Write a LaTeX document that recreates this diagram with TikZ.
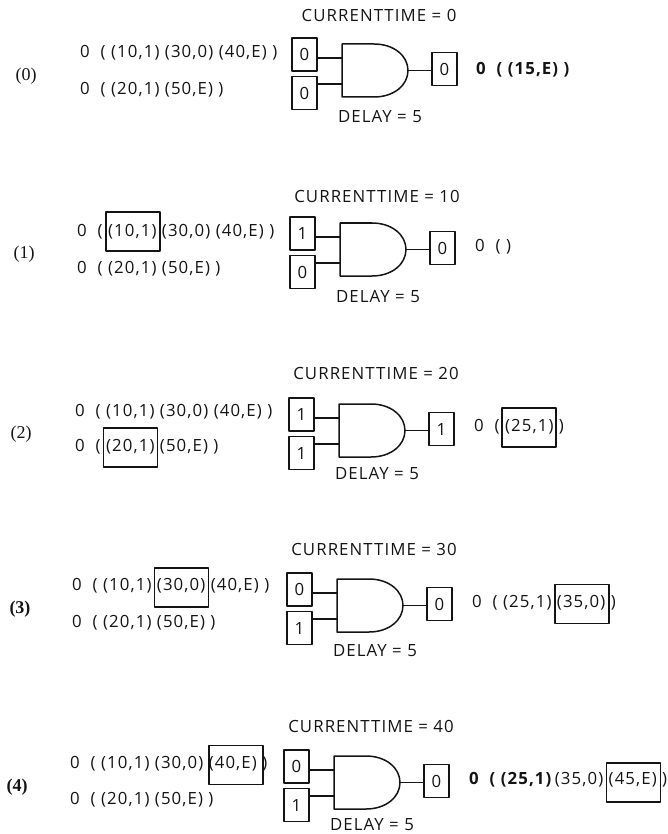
\documentclass[tikz,border=0pt]{standalone}
\usepackage{fontspec}
\usepackage{xcolor}
\usepackage{tikz}
\setmainfont[LetterSpace=6.5]{Open Sans}
\newfontfamily\stagefont{Liberation Serif}
\definecolor{ink}{HTML}{141414}
\tikzset{
  textlabel/.style={inner sep=0pt,text=ink,font=\fontsize{16.8}{18}\selectfont},
  listlabel/.style={textlabel,anchor=west},
  stagelabel/.style={inner sep=0pt,text=ink,font=\stagefont\fontsize{18}{20}\selectfont},
  sigbox/.style={draw=ink,line width=1.6pt,inner sep=0pt,minimum width=25pt,minimum height=33pt,textlabel},
  hibox/.style={draw=ink,line width=1.5pt,inner sep=0pt,minimum width=54pt,minimum height=39pt},
  wire/.style={draw=ink,line width=1.5pt}
}

\begin{document}
\begin{tikzpicture}[x=1pt,y=-1pt,line cap=round,line join=round]
  \useasboundingbox (0,0) rectangle (668,834);
  \foreach \row/\gx/\gy/\ina/\inb/\outv/\now/\nowy/\dly in {0/342/44/0/0/0/0/-29/73,1/340/223/1/0/0/10/-27/74,2/339/404/1/1/1/20/-31/70,3/337/579/0/1/0/30/-30/72,4/334/756/0/1/0/40/-30/69}{
    \begin{scope}[shift={(\gx,\gy)}]
      \draw[wire] (0,0) -- (32,0) .. controls (52,0) and (66,12) .. (66,26.5) .. controls (66,41) and (52,53) .. (32,53) -- (0,53) -- cycle;
      \coordinate (pina\row) at (0,14);
      \coordinate (pinb\row) at (0,40);
      \coordinate (pinout\row) at (66,26.5);
      \node[sigbox] (ina\row) at (-37.5,10.5) {\ina};
      \node[sigbox] (inb\row) at (-37.5,49) {\inb};
      \node[sigbox] (outv\row) at (102.5,25) {\outv};
      \node[textlabel] (now\row) at (37,\nowy) {CURRENTTIME = \now};
      \node[textlabel] (delay\row) at (38,\dly) {DELAY = 5};
      \draw[wire] (pina\row -| ina\row.east) -- (pina\row);
      \draw[wire] (pinb\row -| inb\row.east) -- (pinb\row);
      \draw[wire] (pinout\row) -- (pinout\row -| outv\row.west);
    \end{scope}
  }
  \node[stagelabel] (stage0) at (26,76) {(0)};
  \node[stagelabel] (stage1) at (24,254) {(1)};
  \node[stagelabel] (stage2) at (21,434) {(2)};
  \node[stagelabel,font=\stagefont\bfseries\fontsize{18}{20}\selectfont] (stage3) at (20,609) {(3)};
  \node[stagelabel,font=\stagefont\bfseries\fontsize{18}{20}\selectfont] (stage4) at (17,787) {(4)};

  \node[listlabel] (lista0) at (80,53) {0\ \ ( (10,1) (30,0) (40,E) )};
  \node[listlabel] (listb0) at (80,90) {0\ \ ( (20,1) (50,E) )};
  \node[listlabel,font=\bfseries\fontsize{16.8}{18}\selectfont] (listout0) at (476,70) {0\ \ ( (15,E) )};

  \node[listlabel] (lista1) at (77,232) {0\ \ ( (10,1) (30,0) (40,E) )};
  \node[listlabel] (listb1) at (77,269) {0\ \ ( (20,1) (50,E) )};
  \node[listlabel] (listout1) at (475,247) {0\ \ ( )};
  \node[hibox] (hia1) at (133,231.5) {};

  \node[listlabel] (lista2) at (75,412) {0\ \ ( (10,1) (30,0) (40,E) )};
  \node[listlabel] (listb2) at (75,447) {0\ \ ( (20,1) (50,E) )};
  \node[listlabel] (listout2) at (474,427) {0\ \ ( (25,1) )};
  \node[hibox] (hib2) at (130.5,447.5) {};
  \node[hibox] (hiout2) at (529,427.5) {};

  \node[listlabel] (lista3) at (72,586) {0\ \ ( (10,1) (30,0) (40,E) )};
  \node[listlabel] (listb3) at (72,623) {0\ \ ( (20,1) (50,E) )};
  \node[listlabel] (listout3) at (472,603) {0\ \ ( (25,1) (35,0) )};
  \node[hibox] (hia3) at (181.5,587.5) {};
  \node[hibox] (hiout3) at (582,604) {};

  \node[listlabel] (lista4) at (70,764) {0\ \ ( (10,1) (30,0) (40,E) )};
  \node[listlabel] (listb4) at (70,800) {0\ \ ( (20,1) (50,E) )};
  \node[listlabel] (listout4) at (469,780) {\textbf{0\ \ ( (25,1)}\kern-3pt\ (35,0) (45,E) )};
  \node[hibox] (hia4) at (236,765) {};
  \node[hibox] (hiout4) at (633.5,782.5) {};
\end{tikzpicture}
\end{document}
